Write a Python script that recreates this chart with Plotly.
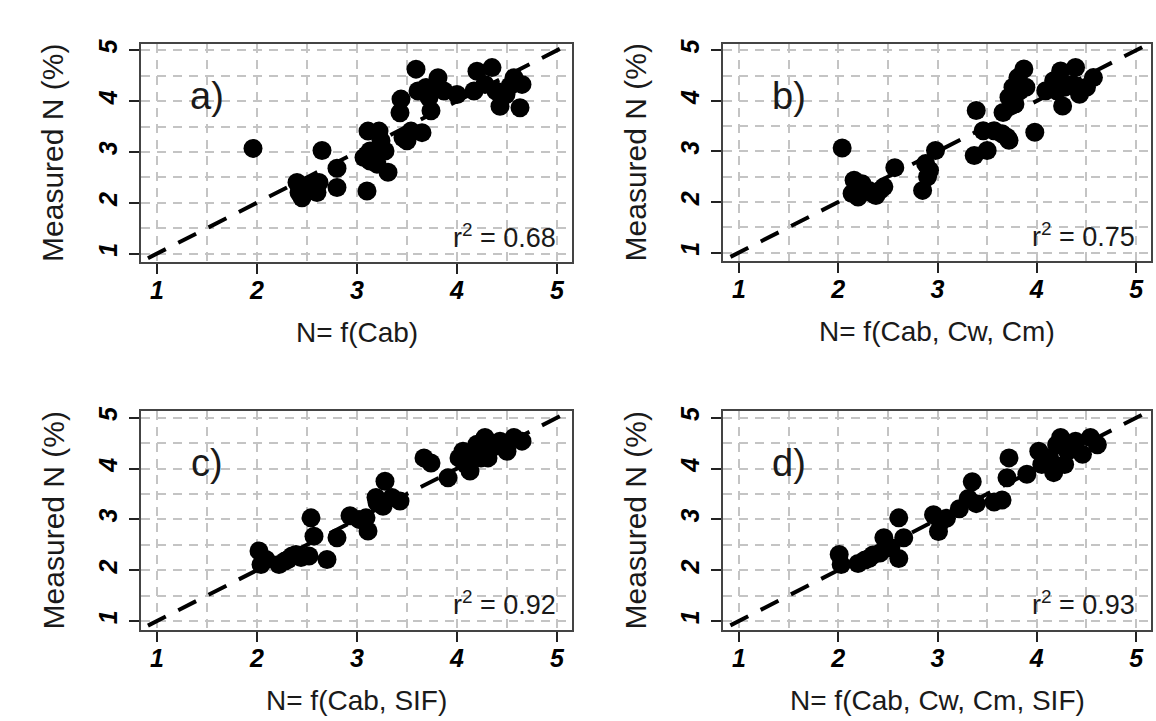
import plotly.graph_objects as go

# ---------------- data ----------------
a_pred = [1.96, 2.65, 2.80, 2.80, 3.10,
          2.40, 2.42, 2.45, 2.50, 2.55, 2.58, 2.62, 2.47, 2.60,
          3.11, 3.22, 3.13, 3.28, 3.13, 3.20, 3.31, 3.24, 3.07,
          3.46, 3.54, 3.65, 3.50, 3.43, 3.44,
          3.59, 3.69, 3.81, 3.87, 3.72, 3.74, 3.61, 3.78,
          4.00,
          4.20, 4.35, 4.28, 4.39, 4.43, 4.57, 4.65, 4.63, 4.49, 4.17, 4.53]
a_meas = [3.07, 3.03, 2.68, 2.30, 2.23,
          2.40, 2.20, 2.10, 2.30, 2.25, 2.35, 2.40, 2.28, 2.20,
          3.41, 3.41, 3.02, 3.02, 2.82, 2.76, 2.60, 3.22, 2.89,
          3.28, 3.41, 3.38, 3.22, 3.77, 4.04,
          4.63, 4.27, 4.46, 4.20, 4.07, 3.81, 4.20, 4.30,
          4.13,
          4.59, 4.66, 4.33, 4.20, 3.90, 4.46, 4.33, 3.87, 4.13, 4.20, 4.30]

b_pred = [2.04, 2.16, 2.18, 2.20, 2.24, 2.14,
          2.35, 2.42, 2.46, 2.38, 2.31,
          2.57, 2.85, 2.88, 2.92, 2.98, 2.90,
          3.37, 3.39, 3.50, 3.46, 3.57, 3.65, 3.72, 3.70,
          3.66, 3.72, 3.76, 3.81, 3.87, 3.83, 3.78, 3.89,
          3.98,
          4.09, 4.17, 4.24, 4.28, 4.26, 4.39, 4.36, 4.43, 4.57, 4.50, 4.20]
b_meas = [3.07, 2.43, 2.23, 2.10, 2.36, 2.17,
          2.17, 2.23, 2.30, 2.13, 2.23,
          2.68, 2.23, 2.76, 2.63, 3.02, 2.50,
          2.92, 3.81, 3.02, 3.41, 3.41, 3.35, 3.22, 3.28,
          3.77, 4.07, 4.27, 4.46, 4.63, 4.20, 3.94, 4.27,
          3.38,
          4.20, 4.40, 4.59, 4.27, 3.90, 4.66, 4.33, 4.13, 4.46, 4.27, 4.20]

c_pred = [2.02, 2.04, 2.09,
          2.22, 2.28, 2.35, 2.39, 2.44, 2.52, 2.31,
          2.54, 2.57, 2.70, 2.80,
          2.93, 3.02, 3.11, 3.09,
          3.28, 3.19, 3.26, 3.35, 3.43, 3.20,
          3.67, 3.74,
          3.91, 4.02, 4.06, 4.13, 4.20, 4.24, 4.28, 4.35, 4.43, 4.50, 4.57, 4.65,
          4.09, 4.31, 4.17]
c_meas = [2.38, 2.11, 2.21,
          2.11, 2.18, 2.28, 2.31, 2.25, 2.28, 2.21,
          3.03, 2.67, 2.21, 2.64,
          3.07, 3.00, 2.77, 3.03,
          3.75, 3.43, 3.26, 3.43, 3.36, 3.33,
          4.21, 4.11,
          3.82, 4.21, 4.34, 3.95, 4.48, 4.21, 4.61, 4.41, 4.54, 4.34, 4.61, 4.54,
          4.08, 4.21, 4.34]

d_pred = [2.01, 2.03,
          2.20, 2.27, 2.35, 2.42, 2.31,
          2.46, 2.61, 2.66, 2.61, 2.53,
          2.96, 3.01, 3.03, 3.09,
          3.22, 3.35, 3.39, 3.31, 3.57, 3.65,
          3.72, 3.70, 3.90,
          4.02, 4.05, 4.17, 4.13, 4.20, 4.24, 4.31, 4.39, 4.46, 4.54, 4.61, 4.28]
d_meas = [2.31, 2.11,
          2.13, 2.20, 2.30, 2.34, 2.23,
          2.64, 3.03, 2.64, 2.23, 2.44,
          3.09, 2.76, 2.95, 3.02,
          3.21, 3.74, 3.31, 3.41, 3.34, 3.38,
          4.21, 3.82, 3.89,
          4.34, 4.08, 3.92, 4.21, 4.47, 4.61, 4.34, 4.54, 4.28, 4.61, 4.47, 4.08]

panel_letters = ["a)", "b)", "c)", "d)"]
x_titles = ["N= f(Cab)", "N= f(Cab, Cw, Cm)", "N= f(Cab, SIF)", "N= f(Cab, Cw, Cm, SIF)"]
y_title = "Measured N (%)"
r2_values = ["0.68", "0.75", "0.92", "0.93"]
tick_vals = [1, 2, 3, 4, 5]
tick_text = ["1", "2", "3", "4", "5"]
one_to_one = [0, 6]

# ---------------- layout geometry (pixels) ----------------
W, H = 1156, 721
boxes = [  # left, right, top, bottom (px)
    (141, 572, 39, 259),
    (723, 1151, 39, 258),
    (141, 572, 409, 629),
    (723, 1151, 409, 629),
]
xr = [0.84, 5.15]
yr = [0.83, 5.13]

series = [(a_pred, a_meas), (b_pred, b_meas), (c_pred, c_meas), (d_pred, d_meas)]

fig = go.Figure()
annotations = []
FONT = "Liberation Sans, Arial, sans-serif"

for i, ((px, py), (l, r, t, b)) in enumerate(zip(series, boxes)):
    n = i + 1
    xa = "x" if n == 1 else f"x{n}"
    ya = "y" if n == 1 else f"y{n}"
    fig.add_trace(go.Scatter(
        x=px, y=py, mode="markers", xaxis=xa, yaxis=ya,
        marker=dict(size=19, color="black", line=dict(width=0)),
        showlegend=False, hoverinfo="skip"))
    fig.add_trace(go.Scatter(
        x=one_to_one, y=one_to_one, mode="lines", xaxis=xa, yaxis=ya,
        line=dict(color="black", width=4, dash="20px,14px"),
        showlegend=False, hoverinfo="skip"))

    axis_common = dict(
        tickmode="array", tickvals=tick_vals, ticktext=tick_text,
        ticks="outside", ticklen=10, tickwidth=1.5, tickcolor="#222",
        tickfont=dict(family=FONT, size=25, color="black", weight="bold", style="italic"),
        showline=True, linecolor="#444", linewidth=2, mirror=True,
        showgrid=True, gridcolor="#c4c4c4", gridwidth=2, griddash="9px,7px",
        minor=dict(dtick=0.5, tick0=0, showgrid=True, gridcolor="#c4c4c4",
                   gridwidth=2, griddash="9px,7px", ticks=""),
        zeroline=False, fixedrange=True,
    )
    xd = [l / W, r / W]
    yd = [1 - b / H, 1 - t / H]
    xkw = dict(axis_common, range=xr, domain=xd, anchor=ya, ticklabelstandoff=-5)
    ykw = dict(axis_common, range=yr, domain=yd, anchor=xa, tickangle=-90,
               ticklabelstandoff=2)
    fig.update_layout(**{("xaxis" if n == 1 else f"xaxis{n}"): xkw,
                         ("yaxis" if n == 1 else f"yaxis{n}"): ykw})

    # panel letter
    annotations.append(dict(
        x=1.5, y=4.1, xref=xa, yref=ya, text=panel_letters[i], showarrow=False,
        xanchor="center", yanchor="middle",
        font=dict(family=FONT, size=38, color="#1a1a1a")))
    # r^2 label
    annotations.append(dict(
        x=5.01, y=1.35, xref=xa, yref=ya,
        text=f"r<sup>2</sup> = {r2_values[i]}", showarrow=False,
        xanchor="right", yanchor="middle",
        font=dict(family=FONT, size=27, color="#1a1a1a")))
    # x title
    annotations.append(dict(
        x=(l + r) / 2 / W, y=1 - (b + 71) / H, xref="paper", yref="paper",
        text=x_titles[i], showarrow=False, xanchor="center", yanchor="middle",
        font=dict(family=FONT, size=28, color="#1a1a1a")))
    # y title
    annotations.append(dict(
        x=(l - 88) / W, y=1 - (t + b) / 2 / H, xref="paper", yref="paper",
        text=y_title, showarrow=False, xanchor="center", yanchor="middle",
        textangle=-90, font=dict(family=FONT, size=30, color="#1a1a1a")))

fig.update_layout(
    width=W, height=H, margin=dict(l=0, r=0, t=0, b=0),
    paper_bgcolor="white", plot_bgcolor="white",
    annotations=annotations,
)

fig.write_html("out.html")
